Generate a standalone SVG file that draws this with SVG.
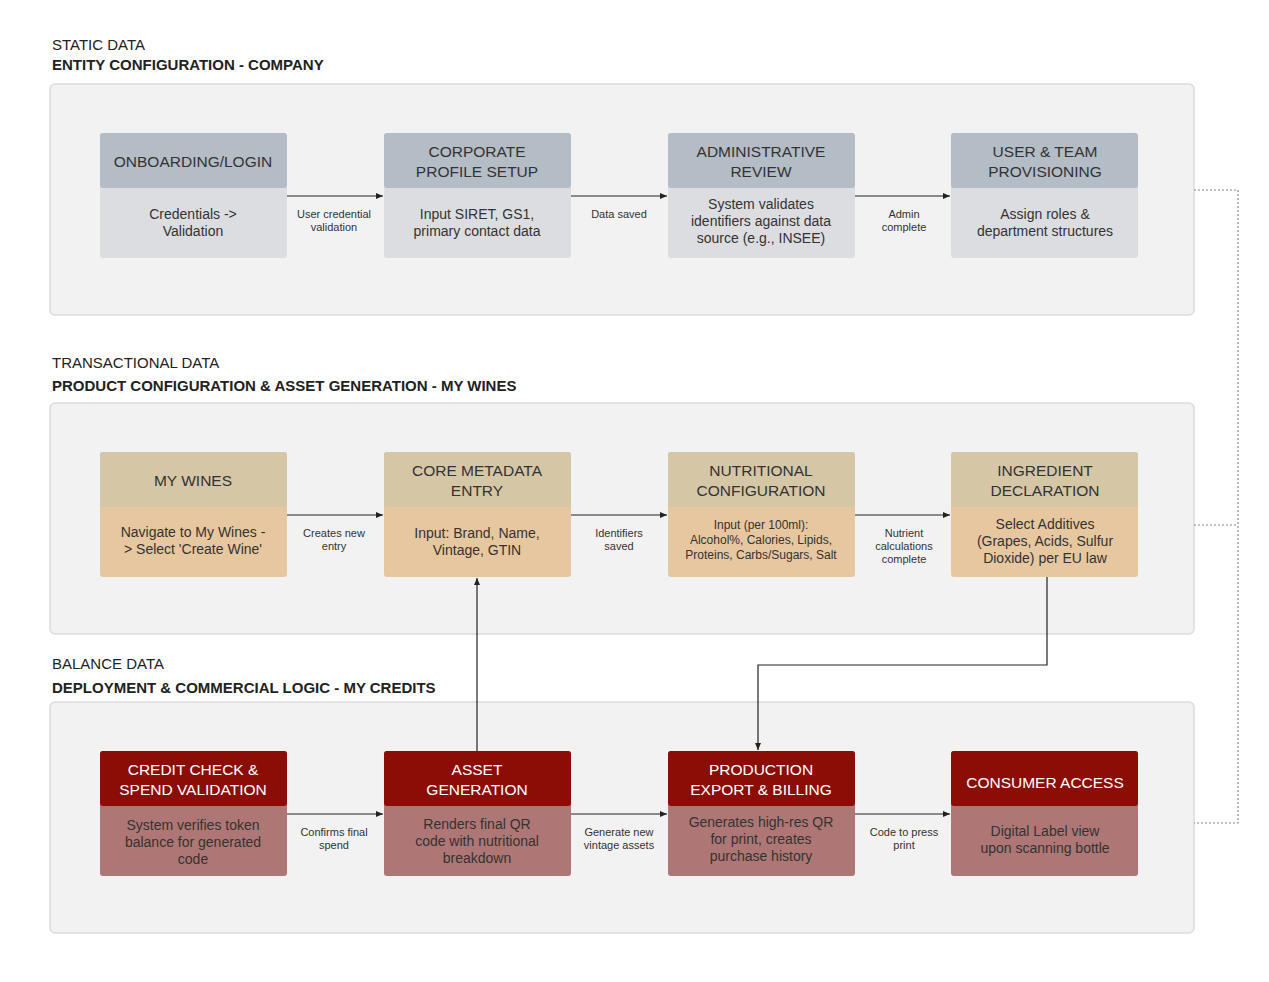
<svg xmlns="http://www.w3.org/2000/svg" width="1269" height="982" viewBox="0 0 1269 982">
<defs>
<marker id="ah" markerWidth="8" markerHeight="8" refX="7" refY="4" orient="auto" markerUnits="userSpaceOnUse"><path d="M0,1 L7,4 L0,7 z" fill="#222"/></marker>
<style>
text{font-family:"Liberation Sans",Arial,sans-serif;}
.sec{font-size:15px;fill:#222}
.secb{font-size:15px;font-weight:bold;fill:#222}
.panel{fill:#f2f2f2;stroke:#dcdcdc;stroke-width:1.5}
.h{font-size:15.5px;text-anchor:middle}
.b{font-size:14px;text-anchor:middle;fill:#333}
.bs{font-size:12px;text-anchor:middle;fill:#333}
.lbl{font-size:11px;text-anchor:middle;fill:#333}
.g1h{fill:#b4bcc6}.g1b{fill:#dcdde0}
.g2h{fill:#d5c6a6}.g2b{fill:#e7c79f}
.g3h{fill:#8b0d06}.g3b{fill:#ae7775}
.dk{fill:#333}.wt{fill:#fff}
.c{stroke:#222;stroke-width:1.2;fill:none}
.d{stroke:#888;stroke-width:1.2;fill:none;stroke-dasharray:2,2}
</style>
</defs>
<rect width="1269" height="982" fill="#fff"/>
<text class="sec" x="52" y="50">STATIC DATA</text>
<text class="secb" x="52" y="70">ENTITY CONFIGURATION - COMPANY</text>
<text class="sec" x="52" y="368">TRANSACTIONAL DATA</text>
<text class="secb" x="52" y="391">PRODUCT CONFIGURATION &amp; ASSET GENERATION - MY WINES</text>
<text class="sec" x="52" y="669">BALANCE DATA</text>
<text class="secb" x="52" y="693">DEPLOYMENT &amp; COMMERCIAL LOGIC -  MY CREDITS</text>
<rect class="panel" x="50" y="84" width="1144" height="231" rx="5"/>
<rect class="panel" x="50" y="403" width="1144" height="231" rx="5"/>
<rect class="panel" x="50" y="702" width="1144" height="231" rx="5"/>
<g id="connectors">
<path class="c" d="M287,196 H383" marker-end="url(#ah)"/>
<path class="c" d="M571,196 H667" marker-end="url(#ah)"/>
<path class="c" d="M855,196 H950" marker-end="url(#ah)"/>
<path class="c" d="M287,515 H383" marker-end="url(#ah)"/>
<path class="c" d="M571,515 H667" marker-end="url(#ah)"/>
<path class="c" d="M855,515 H950" marker-end="url(#ah)"/>
<path class="c" d="M287,814 H383" marker-end="url(#ah)"/>
<path class="c" d="M571,814 H667" marker-end="url(#ah)"/>
<path class="c" d="M855,814 H950" marker-end="url(#ah)"/>
<path class="c" d="M477,751 V578" marker-end="url(#ah)"/>
<path class="c" d="M1047,577 V665 H758 V750" marker-end="url(#ah)"/>
<path class="d" d="M1194,190 H1238 V823 H1194 M1194,525 H1238"/>
<text class="lbl"><tspan x="334" y="218">User credential</tspan><tspan x="334" y="231">validation</tspan></text>
<text class="lbl"><tspan x="619" y="218">Data saved</tspan></text>
<text class="lbl"><tspan x="904" y="218">Admin</tspan><tspan x="904" y="231">complete</tspan></text>
<text class="lbl"><tspan x="334" y="537">Creates new</tspan><tspan x="334" y="550">entry</tspan></text>
<text class="lbl"><tspan x="619" y="537">Identifiers</tspan><tspan x="619" y="550">saved</tspan></text>
<text class="lbl"><tspan x="904" y="537">Nutrient</tspan><tspan x="904" y="550">calculations</tspan><tspan x="904" y="563">complete</tspan></text>
<text class="lbl"><tspan x="334" y="836">Confirms final</tspan><tspan x="334" y="849">spend</tspan></text>
<text class="lbl"><tspan x="619" y="836">Generate new</tspan><tspan x="619" y="849">vintage assets</tspan></text>
<text class="lbl"><tspan x="904" y="836">Code to press</tspan><tspan x="904" y="849">print</tspan></text>
</g>
<g id="n1"><rect class="g1b" x="100" y="133" width="187" height="125" rx="3"/><rect class="g1h" x="100" y="133" width="187" height="55" rx="3"/><text class="h dk" x="193" y="167">ONBOARDING/LOGIN</text><text class="b"><tspan x="193" y="219">Credentials -&gt;</tspan><tspan x="193" y="236">Validation</tspan></text></g>
<g id="n2"><rect class="g1b" x="384" y="133" width="187" height="125" rx="3"/><rect class="g1h" x="384" y="133" width="187" height="55" rx="3"/><text class="h dk"><tspan x="477" y="157">CORPORATE</tspan><tspan x="477" y="177">PROFILE SETUP</tspan></text><text class="b"><tspan x="477" y="219">Input SIRET, GS1,</tspan><tspan x="477" y="236">primary contact data</tspan></text></g>
<g id="n3"><rect class="g1b" x="668" y="133" width="187" height="125" rx="3"/><rect class="g1h" x="668" y="133" width="187" height="55" rx="3"/><text class="h dk"><tspan x="761" y="157">ADMINISTRATIVE</tspan><tspan x="761" y="177">REVIEW</tspan></text><text class="b"><tspan x="761" y="209">System validates</tspan><tspan x="761" y="226">identifiers against data</tspan><tspan x="761" y="243">source (e.g., INSEE)</tspan></text></g>
<g id="n4"><rect class="g1b" x="951" y="133" width="187" height="125" rx="3"/><rect class="g1h" x="951" y="133" width="187" height="55" rx="3"/><text class="h dk"><tspan x="1045" y="157">USER &amp; TEAM</tspan><tspan x="1045" y="177">PROVISIONING</tspan></text><text class="b"><tspan x="1045" y="219">Assign roles &amp;</tspan><tspan x="1045" y="236">department structures</tspan></text></g>
<g id="n5"><rect class="g2b" x="100" y="452" width="187" height="125" rx="3"/><rect class="g2h" x="100" y="452" width="187" height="55" rx="3"/><text class="h dk" x="193" y="486">MY WINES</text><text class="b"><tspan x="193" y="537">Navigate to My Wines -</tspan><tspan x="193" y="554">&gt; Select 'Create Wine'</tspan></text></g>
<g id="n6"><rect class="g2b" x="384" y="452" width="187" height="125" rx="3"/><rect class="g2h" x="384" y="452" width="187" height="55" rx="3"/><text class="h dk"><tspan x="477" y="476">CORE METADATA</tspan><tspan x="477" y="496">ENTRY</tspan></text><text class="b"><tspan x="477" y="538">Input: Brand, Name,</tspan><tspan x="477" y="555">Vintage, GTIN</tspan></text></g>
<g id="n7"><rect class="g2b" x="668" y="452" width="187" height="125" rx="3"/><rect class="g2h" x="668" y="452" width="187" height="55" rx="3"/><text class="h dk"><tspan x="761" y="476">NUTRITIONAL</tspan><tspan x="761" y="496">CONFIGURATION</tspan></text><text class="bs"><tspan x="761" y="529">Input (per 100ml):</tspan><tspan x="761" y="544">Alcohol%, Calories, Lipids,</tspan><tspan x="761" y="559">Proteins, Carbs/Sugars, Salt</tspan></text></g>
<g id="n8"><rect class="g2b" x="951" y="452" width="187" height="125" rx="3"/><rect class="g2h" x="951" y="452" width="187" height="55" rx="3"/><text class="h dk"><tspan x="1045" y="476">INGREDIENT</tspan><tspan x="1045" y="496">DECLARATION</tspan></text><text class="b"><tspan x="1045" y="529">Select Additives</tspan><tspan x="1045" y="546">(Grapes, Acids, Sulfur</tspan><tspan x="1045" y="563">Dioxide) per EU law</tspan></text></g>
<g id="n9"><rect class="g3b" x="100" y="751" width="187" height="125" rx="3"/><rect class="g3h" x="100" y="751" width="187" height="55" rx="3"/><text class="h wt"><tspan x="193" y="775">CREDIT CHECK &amp;</tspan><tspan x="193" y="795">SPEND VALIDATION</tspan></text><text class="b dk"><tspan x="193" y="830">System verifies token</tspan><tspan x="193" y="847">balance for generated</tspan><tspan x="193" y="864">code</tspan></text></g>
<g id="n10"><rect class="g3b" x="384" y="751" width="187" height="125" rx="3"/><rect class="g3h" x="384" y="751" width="187" height="55" rx="3"/><text class="h wt"><tspan x="477" y="775">ASSET</tspan><tspan x="477" y="795">GENERATION</tspan></text><text class="b dk"><tspan x="477" y="829">Renders final QR</tspan><tspan x="477" y="846">code with nutritional</tspan><tspan x="477" y="863">breakdown</tspan></text></g>
<g id="n11"><rect class="g3b" x="668" y="751" width="187" height="125" rx="3"/><rect class="g3h" x="668" y="751" width="187" height="55" rx="3"/><text class="h wt"><tspan x="761" y="775">PRODUCTION</tspan><tspan x="761" y="795">EXPORT &amp; BILLING</tspan></text><text class="b dk"><tspan x="761" y="827">Generates high-res QR</tspan><tspan x="761" y="844">for print, creates</tspan><tspan x="761" y="861">purchase history</tspan></text></g>
<g id="n12"><rect class="g3b" x="951" y="751" width="187" height="125" rx="3"/><rect class="g3h" x="951" y="751" width="187" height="55" rx="3"/><text class="h wt" x="1045" y="788">CONSUMER ACCESS</text><text class="b dk"><tspan x="1045" y="836">Digital Label view</tspan><tspan x="1045" y="853">upon scanning bottle</tspan></text></g>
</svg>
